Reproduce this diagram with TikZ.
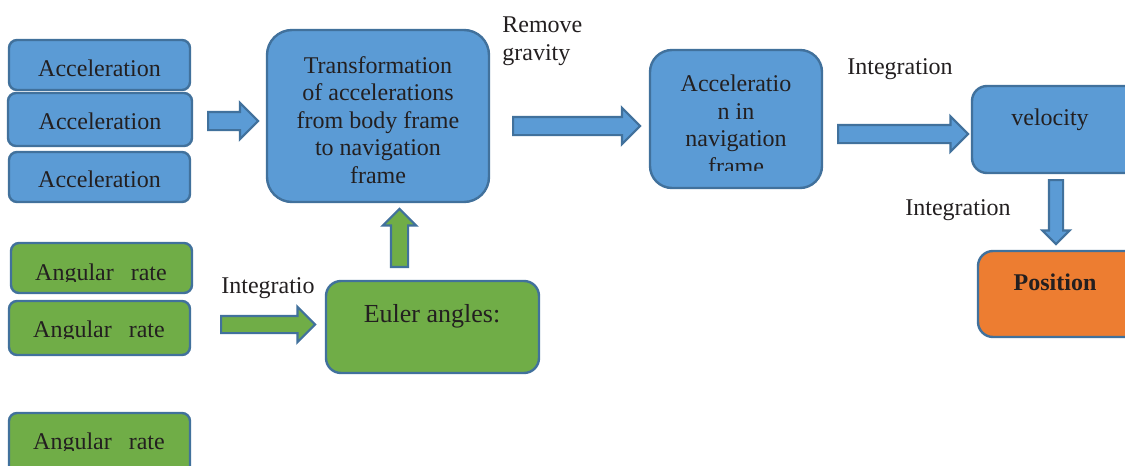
\documentclass[tikz,border=0pt]{standalone}
\usepackage{fontspec}
\setmainfont{Liberation Serif}
\usetikzlibrary{shapes.arrows}
\definecolor{bfill}{HTML}{5B9BD5}
\definecolor{bdraw}{HTML}{41719C}
\definecolor{gfill}{HTML}{70AD47}
\definecolor{ofill}{HTML}{ED7D31}
\definecolor{txt}{HTML}{231F20}
\tikzset{
  box/.style={draw=bdraw, line width=1.2pt, inner sep=0pt, rounded corners=#1},
  box/.default=4pt,
  bluebox/.style={box=#1, fill=bfill},
  bluebox/.default=4pt,
  greenbox/.style={box=#1, fill=gfill},
  greenbox/.default=4pt,
  orangebox/.style={box=#1, fill=ofill},
  orangebox/.default=4pt,
  lbl/.style={text=txt, font=\fontsize{12}{13.75}\selectfont, inner sep=0pt},
  barrow/.style={single arrow, draw=bdraw, line width=1.1pt, inner xsep=0pt, single arrow tip angle=90, anchor=tail},
}
\begin{document}
\begin{tikzpicture}[x=0.5pt,y=-0.5pt]
\clip (0,0) rectangle (1125,466);
\fill[white] (0,0) rectangle (1125,466);

% acceleration inputs
\node[bluebox, minimum width=90.5pt, minimum height=25pt] (acc1) at (99.5,65) {};
\node[bluebox, minimum width=92pt, minimum height=26.5pt] (acc2) at (100,119.5) {};
\node[bluebox, minimum width=90.5pt, minimum height=25pt] (acc3) at (99.5,177) {};
\node[lbl] (acc1t) at (acc1.center|-0,68) {Acceleration};
\node[lbl] (acc2t) at (acc2.center|-0,121) {Acceleration};
\node[lbl] (acc3t) at (acc3.center|-0,179) {Acceleration};

% transformation
\node[bluebox=12.5pt, minimum width=111pt, minimum height=86pt] (trans) at (378,116) {};
\node[lbl, align=center] (transt) at (378,120) {Transformation\\of accelerations\\from body frame\\to navigation\\frame};

\node[lbl, align=left, anchor=west] (remg) at (502,41) {Remove\\gravity};

% acceleration in navigation frame
\node[bluebox=11pt, minimum width=86pt, minimum height=69pt] (accnav) at (736,119) {};
\begin{scope}
\clip (600,0) rectangle (900,170);
\node[lbl, align=center] (accnavt) at (736,125) {Acceleratio\\n in\\navigation\\frame};
\end{scope}

\node[lbl] (int1) at (900,69) {Integration};

% velocity
\node[bluebox=7.5pt, minimum width=84pt, minimum height=43.5pt] (vel) at (1056,129.5) {};
\node[lbl] (velt) at (1050,120) {velocity};

\node[lbl] (int2) at (958,210) {Integration};

% position
\node[orangebox=7.5pt, minimum width=81pt, minimum height=43pt] (pos) at (1059,294) {};
\node[lbl, font=\fontsize{12}{13.75}\selectfont\bfseries] (post) at (1055,282) {Position};

% angular rates
\node[greenbox, minimum width=90.5pt, minimum height=25pt] (ang1) at (101.5,268) {};
\node[greenbox, minimum width=90.5pt, minimum height=27pt] (ang2) at (99.5,328) {};
\node[greenbox, minimum width=90.5pt, minimum height=31pt] (ang3) at (99.5,444) {};
\begin{scope}
\clip (0,250) rectangle (200,281.5);
\node[lbl, anchor=base] (ang1t) at (101,280) {Angular\hspace*{8.5pt}rate};
\end{scope}
\begin{scope}
\clip (0,305) rectangle (200,338.5);
\node[lbl, anchor=base] (ang2t) at (99,337) {Angular\hspace*{8.5pt}rate};
\end{scope}
\begin{scope}
\clip (0,420) rectangle (200,450.5);
\node[lbl, anchor=base] (ang3t) at (99,449) {Angular\hspace*{8.5pt}rate};
\end{scope}

\node[lbl] (int3) at (268,288) {Integratio};

% euler angles
\node[greenbox=7.5pt, minimum width=106.5pt, minimum height=46pt] (euler) at (432.5,327) {};
\node[lbl, font=\fontsize{13}{15}\selectfont] (eulert) at (432,316) {Euler angles:};

% block arrows
\node[barrow, fill=bfill, inner ysep=4pt, minimum height=25pt, minimum width=17pt, single arrow head extend=4.5pt] (a1) at (207,121) {};
\node[barrow, fill=bfill, inner ysep=4pt, minimum height=63.5pt, minimum width=17pt, single arrow head extend=4.5pt] (a2) at (512,126) {};
\node[barrow, fill=bfill, inner ysep=4pt, minimum height=65pt, minimum width=16.5pt, single arrow head extend=4.25pt] (a3) at (837,134) {};
\node[barrow, fill=bfill, inner ysep=3pt, rotate=-90, minimum height=32pt, minimum width=12.5pt, single arrow head extend=3.25pt] (a4) at (1056,179) {};
\node[barrow, fill=gfill, inner ysep=3.75pt, minimum height=47pt, minimum width=16.5pt, single arrow head extend=4.5pt] (a5) at (220,324.5) {};
\node[barrow, fill=gfill, inner ysep=3.75pt, rotate=90, minimum height=29pt, minimum width=15.5pt, single arrow head extend=4pt] (a6) at (399.5,268) {};
\end{tikzpicture}
\end{document}
